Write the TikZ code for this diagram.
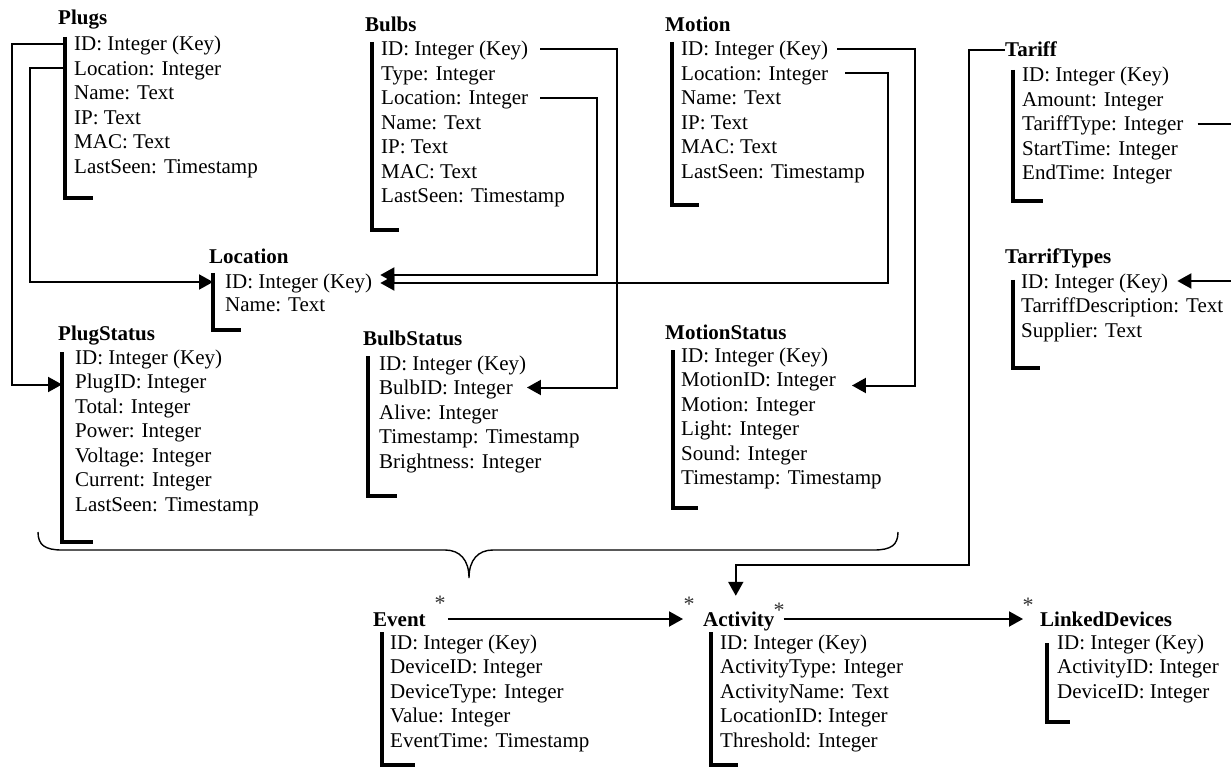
\documentclass[tikz,border=0pt]{standalone}
\usepackage{fontspec}
\setmainfont{Liberation Serif}
\usetikzlibrary{arrows.meta,calc}
% #1 name, #2 title x, #3 title baseline, #4 fields x, #5 first field baseline, #6 row spacing, #7 fields
\newcommand{\dbtbl}[7]{%
  \node[ttl] (#1) at (#2,#3) {#1};
  \foreach \ft [count=\i] in {#7}
    \node[fld] (#1-\i) at ({#4},{#5+#6*(\i-1)}) {\ft};
}
\begin{document}
\begin{tikzpicture}[x=1pt,y=-1pt,
  ttl/.style={anchor=base west,inner sep=0pt,font=\fontsize{21}{24}\selectfont\bfseries,text height=14pt,text depth=0pt},
  fld/.style={anchor=base west,inner sep=0pt,font=\fontsize{21}{24}\selectfont,text height=14pt,text depth=0pt},
  bar/.style={line width=4pt,line join=miter},
  conn/.style={line width=2pt},
  arr/.style={conn,-{Triangle[length=14pt,width=15pt]}},
  brc/.style={line width=1.4pt},
  mult/.style={inner sep=0pt,font=\fontsize{22}{22}\selectfont,text=black!80}]
\clip (0,0) rectangle (1231,767);

% ---------- tables ----------
\dbtbl{Plugs}{58}{25}{74}{51}{24.5}{ID: Integer (Key),Location: Integer,Name: Text,IP: Text,MAC: Text,LastSeen: Timestamp}
\dbtbl{Bulbs}{365}{32}{381}{56}{24.5}{ID: Integer (Key),Type: Integer,Location: Integer,Name: Text,IP: Text,MAC: Text,LastSeen: Timestamp}
\dbtbl{Motion}{665}{32}{681}{56}{24.5}{ID: Integer (Key),Location: Integer,Name: Text,IP: Text,MAC: Text,LastSeen: Timestamp}
\dbtbl{Tariff}{1005}{57}{1022}{82}{24.5}{ID: Integer (Key),Amount: Integer,TariffType: Integer,StartTime: Integer,EndTime: Integer}
\dbtbl{Location}{209}{264}{225}{289}{22}{ID: Integer (Key),Name: Text}
\dbtbl{TarrifTypes}{1005}{264}{1021}{288}{24.5}{ID: Integer (Key),TarriffDescription: Text,Supplier: Text}
\dbtbl{PlugStatus}{58}{340}{75}{364}{24.5}{ID: Integer (Key),PlugID: Integer,Total: Integer,Power: Integer,Voltage: Integer,Current: Integer,LastSeen: Timestamp}
\dbtbl{BulbStatus}{363}{345}{379}{370}{24.5}{ID: Integer (Key),BulbID: Integer,Alive: Integer,Timestamp: Timestamp,Brightness: Integer}
\dbtbl{MotionStatus}{665}{339}{681}{362}{24.5}{ID: Integer (Key),MotionID: Integer,Motion: Integer,Light: Integer,Sound: Integer,Timestamp: Timestamp}
\dbtbl{Event}{373}{626}{390}{649}{24.5}{ID: Integer (Key),DeviceID: Integer,DeviceType: Integer,Value: Integer,EventTime: Timestamp}
\dbtbl{Activity}{703}{626}{720}{649}{24.5}{ID: Integer (Key),ActivityType: Integer,ActivityName: Text,LocationID: Integer,Threshold: Integer}
\dbtbl{LinkedDevices}{1040}{626}{1057}{649}{24.5}{ID: Integer (Key),ActivityID: Integer,DeviceID: Integer}

% ---------- bars ----------
\coordinate (Plugs-bar) at (65,37);          \draw[bar] (Plugs-bar) |- (93,198);
\coordinate (Bulbs-bar) at (372,42);         \draw[bar] (Bulbs-bar) |- (399,230);
\coordinate (Motion-bar) at (672,42);        \draw[bar] (Motion-bar) |- (699,205);
\coordinate (Tariff-bar) at (1013,70);       \draw[bar] (Tariff-bar) |- (1043,201);
\coordinate (Location-bar) at (213,273);     \draw[bar] (Location-bar) |- (241,330);
\coordinate (TarrifTypes-bar) at (1013,280); \draw[bar] (TarrifTypes-bar) |- (1040,368);
\coordinate (PlugStatus-bar) at (62,352);    \draw[bar] (PlugStatus-bar) |- (93,542);
\coordinate (BulbStatus-bar) at (368,356);   \draw[bar] (BulbStatus-bar) |- (397,496);
\coordinate (MotionStatus-bar) at (673,350); \draw[bar] (MotionStatus-bar) |- (698,508);
\coordinate (Event-bar) at (382,632);        \draw[bar] (Event-bar) |- (415,765);
\coordinate (Activity-bar) at (711,632);     \draw[bar] (Activity-bar) |- (738,765);
\coordinate (LinkedDevices-bar) at (1047,643); \draw[bar] (LinkedDevices-bar) |- (1070,722);

% ---------- trunks ----------
\coordinate (tP1) at (12,0);
\coordinate (tP2) at (30,0);
\coordinate (tB1) at (617,0);
\coordinate (tB2) at (597,0);
\coordinate (tM1) at (915,0);
\coordinate (tM2) at (888,0);
\coordinate (tT) at (969,565);
\coordinate (tTT) at (1245,0);

% ---------- connectors ----------
\draw[arr] (Plugs-1.west -| Plugs-bar) -| ($(tP1 |- PlugStatus-2.west)+(0,3)$) -- ($(PlugStatus-2.west -| PlugStatus-bar)+(0,3)$);
\draw[arr] (Plugs-2.west -| Plugs-bar) -| (tP2 |- Location-1.west) -- (Location-1.west -| Location-bar);
\draw[arr] ([xshift=12pt]Bulbs-1.east) -| (tB1 |- BulbStatus-2.east) -- ([xshift=14pt]BulbStatus-2.east);
\draw[arr] ([xshift=12pt]Bulbs-3.east) -| ($(tB2 |- Location-1.east)+(0,-7)$) -- ($(Location-1.east)+(8,-7)$);
\draw[arr] ([xshift=9pt]Motion-1.east) -| ($(tM1 |- MotionStatus-2.east)+(0,6)$) -- ($(MotionStatus-2.east)+(16,6)$);
\draw[arr] ([xshift=17pt]Motion-2.east) -| ($(tM2 |- Location-1.east)+(0,1)$) -- ($(Location-1.east)+(8,1)$);
\draw[arr] (Tariff.west) -| (tT) -| ($(Activity.north)+(-3,-16)$);
\draw[arr] ([xshift=14pt]Tariff-3.east) -| (tTT |- TarrifTypes-1.east) -- ([xshift=9pt]TarrifTypes-1.east);
\draw[arr] ([xshift=22pt]Event.east) -- ([xshift=-20pt]Activity.west);
\draw[arr] ([xshift=9pt]Activity.east) -- ([xshift=-17pt]LinkedDevices.west);

% ---------- multiplicities ----------
\node[mult] (m1) at (440,603) {*};
\node[mult] (m2) at (689,604) {*};
\node[mult] (m3) at (779,610) {*};
\node[mult] (m4) at (1028,605) {*};

% ---------- brace ----------
\draw[brc] (38,532) .. controls (38,545) and (45,550) .. (62,550) -- (445,550)
  .. controls (460,550) and (469,560) .. (469,578)
  .. controls (469,560) and (478,550) .. (493,550) -- (874,550)
  .. controls (891,550) and (898,545) .. (898,532);
\end{tikzpicture}
\end{document}
